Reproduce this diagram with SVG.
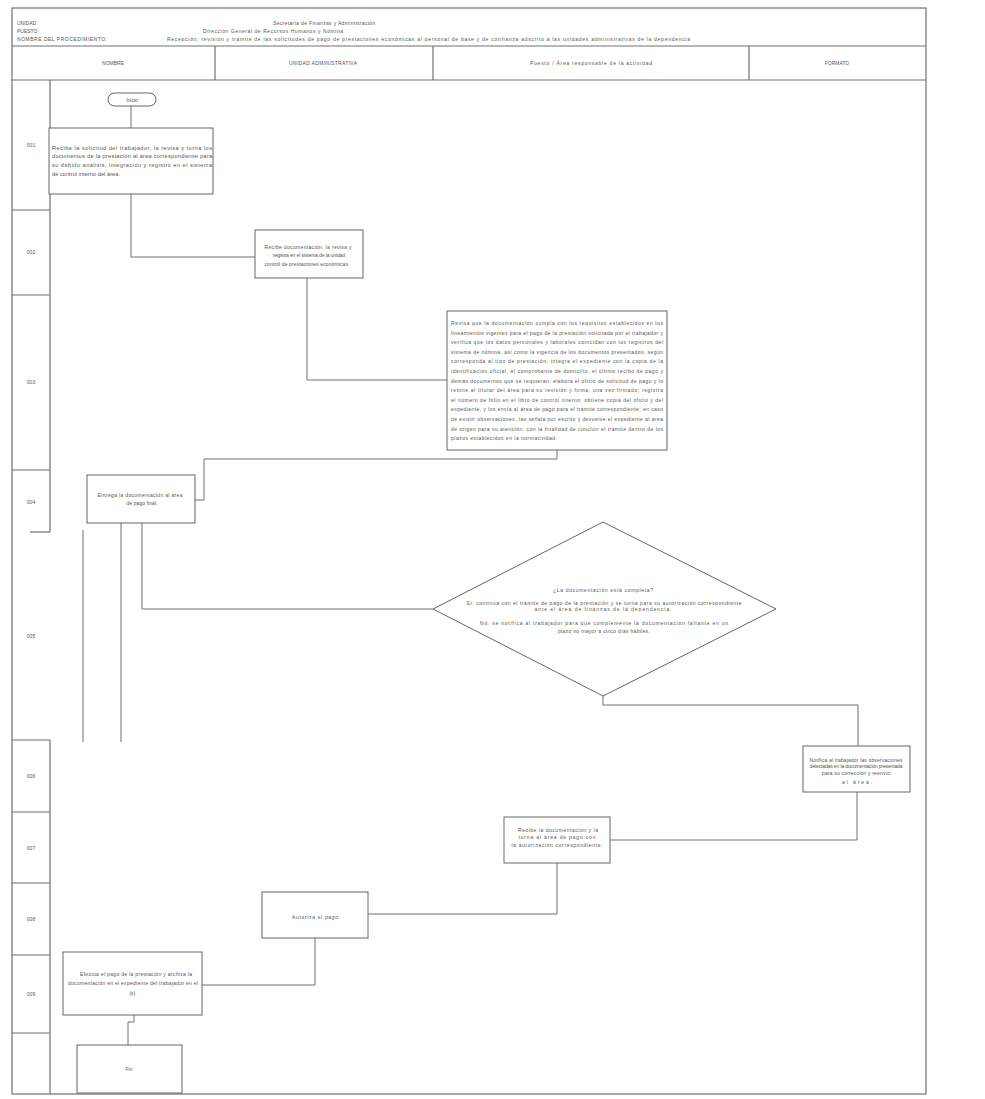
<svg xmlns="http://www.w3.org/2000/svg" width="985" height="1099" viewBox="0 0 985 1099">
<style>
.frame{fill:none;stroke:#707070;stroke-width:1.2}
.box{fill:#fff;stroke:#666;stroke-width:1}
.ln{fill:none;stroke:#707070;stroke-width:1}
.t{font-family:"Liberation Sans",Arial,sans-serif;font-size:5px;fill:#555}
.s{font-size:5.6px}
.m{text-anchor:middle}
</style>
<rect width="985" height="1099" fill="#fff"/>
<g id="page">
<rect class="frame" x="12" y="8" width="914" height="1086"/>
<line class="frame" x1="12" y1="46" x2="926" y2="46"/>
<line class="frame" x1="12" y1="80" x2="926" y2="80"/>
<line class="frame" x1="215" y1="46" x2="215" y2="80"/>
<line class="frame" x1="433" y1="46" x2="433" y2="80"/>
<line class="frame" x1="749" y1="46" x2="749" y2="80"/>
<text class="t" x="17" y="25">UNIDAD:</text>
<text class="t" x="17" y="33">PUESTO:</text>
<text class="t" x="17" y="41" textLength="90" lengthAdjust="spacing">NOMBRE DEL PROCEDIMIENTO:</text>
<text class="t" x="273" y="25" textLength="102" lengthAdjust="spacing">Secretaría de Finanzas y Administración</text>
<text class="t" x="203" y="33" textLength="140" lengthAdjust="spacing">Dirección General de Recursos Humanos y Nómina</text>
<text class="t" x="167" y="41" textLength="523" lengthAdjust="spacing">Recepción, revisión y trámite de las solicitudes de pago de prestaciones económicas al personal de base y de confianza adscrito a las unidades administrativas de la dependencia</text>
<text class="t m" x="113" y="65">NOMBRE</text>
<text class="t m" x="323" y="65" textLength="68" lengthAdjust="spacing">UNIDAD ADMINISTRATIVA</text>
<text class="t m" x="591" y="65" textLength="122" lengthAdjust="spacing">Puesto / Área responsable de la actividad</text>
<text class="t m" x="837" y="65">FORMATO</text>
</g>
<g id="numbers">
<line class="frame" x1="50" y1="80" x2="50" y2="532"/>
<line class="frame" x1="30" y1="532" x2="50" y2="532"/>
<line class="frame" x1="50" y1="740" x2="50" y2="1094"/>
<line class="frame" x1="12" y1="210" x2="50" y2="210"/>
<line class="frame" x1="12" y1="295" x2="50" y2="295"/>
<line class="frame" x1="12" y1="470" x2="50" y2="470"/>
<line class="frame" x1="12" y1="740" x2="50" y2="740"/>
<line class="frame" x1="12" y1="812" x2="50" y2="812"/>
<line class="frame" x1="12" y1="883" x2="50" y2="883"/>
<line class="frame" x1="12" y1="955" x2="50" y2="955"/>
<line class="frame" x1="12" y1="1033" x2="50" y2="1033"/>
<text class="t m" x="31" y="147">001</text>
<text class="t m" x="31" y="254">002</text>
<text class="t m" x="31" y="384">003</text>
<text class="t m" x="31" y="504">004</text>
<text class="t m" x="31" y="638">005</text>
<text class="t m" x="31" y="778">006</text>
<text class="t m" x="31" y="850">007</text>
<text class="t m" x="31" y="921">008</text>
<text class="t m" x="31" y="996">009</text>
</g>
<g id="connectors">
<polyline class="ln" points="131,106 131,128"/>
<polyline class="ln" points="131,194 131,257 255,257"/>
<polyline class="ln" points="307,278 307,380 447,380"/>
<polyline class="ln" points="557,450 557,459 204,459 204,500 195,500"/>
<polyline class="ln" points="142,523 142,609 433,609"/>
<polyline class="ln" points="121,523 121,742"/>
<polyline class="ln" points="83,530 83,742"/>
<polyline class="ln" points="603,696 603,705 858,705 858,746"/>
<polyline class="ln" points="857,792 857,840 610,840"/>
<polyline class="ln" points="557,863 557,914 368,914"/>
<polyline class="ln" points="315,938 315,985 202,985"/>
<polyline class="ln" points="134,1015 134,1022 128,1022 128,1045"/>
</g>
<g id="start">
<rect class="box" x="108" y="93" width="48" height="13" rx="6.5"/>
<text class="t m" x="132" y="101.5">Inicio</text>
</g>
<g id="act1">
<rect class="box" x="49" y="128" width="164" height="66"/>
<text class="t s" x="52" y="150" textLength="160" lengthAdjust="spacing">Recibe la solicitud del trabajador, la revisa y turna los</text>
<text class="t s" x="52" y="158" textLength="160" lengthAdjust="spacing">documentos de la prestación al área correspondiente para</text>
<text class="t s" x="52" y="167" textLength="160" lengthAdjust="spacing">su debido análisis, integración y registro en el sistema</text>
<text class="t s" x="52" y="176" textLength="68" lengthAdjust="spacing">de control interno del área.</text>
</g>
<g id="act2">
<rect class="box" x="255" y="230" width="108" height="48"/>
<text class="t m" x="308" y="249" textLength="87" lengthAdjust="spacing">Recibe documentación, la revisa y</text>
<text class="t m" x="309" y="257" textLength="72" lengthAdjust="spacing">registra en el sistema de la unidad</text>
<text class="t m" x="307" y="266" textLength="85" lengthAdjust="spacing">control de prestaciones económicas.</text>
</g>
<g id="act3">
<rect class="box" x="447" y="311" width="220" height="139"/>
<g class="t" font-size="5.8">
<text x="451" y="325" textLength="212" lengthAdjust="spacing">Revisa que la documentación cumpla con los requisitos establecidos en los</text>
<text x="451" y="334.6" textLength="212" lengthAdjust="spacing">lineamientos vigentes para el pago de la prestación solicitada por el trabajador y</text>
<text x="451" y="344.2" textLength="212" lengthAdjust="spacing">verifica que los datos personales y laborales coincidan con los registros del</text>
<text x="451" y="353.8" textLength="212" lengthAdjust="spacing">sistema de nómina, así como la vigencia de los documentos presentados, según</text>
<text x="451" y="363.4" textLength="212" lengthAdjust="spacing">corresponda al tipo de prestación; integra el expediente con la copia de la</text>
<text x="451" y="373" textLength="212" lengthAdjust="spacing">identificación oficial, el comprobante de domicilio, el último recibo de pago y</text>
<text x="451" y="382.6" textLength="212" lengthAdjust="spacing">demás documentos que se requieran; elabora el oficio de solicitud de pago y lo</text>
<text x="451" y="392.2" textLength="212" lengthAdjust="spacing">remite al titular del área para su revisión y firma; una vez firmado, registra</text>
<text x="451" y="401.8" textLength="212" lengthAdjust="spacing">el número de folio en el libro de control interno, obtiene copia del oficio y del</text>
<text x="451" y="411.4" textLength="212" lengthAdjust="spacing">expediente, y los envía al área de pago para el trámite correspondiente; en caso</text>
<text x="451" y="421" textLength="212" lengthAdjust="spacing">de existir observaciones, las señala por escrito y devuelve el expediente al área</text>
<text x="451" y="430.6" textLength="212" lengthAdjust="spacing">de origen para su atención, con la finalidad de concluir el trámite dentro de los</text>
<text x="451" y="440.2" textLength="106" lengthAdjust="spacing">plazos establecidos en la normatividad.</text>
</g>
</g>
<g id="act4">
<rect class="box" x="87" y="475" width="108" height="48"/>
<text class="t m" x="140" y="497" textLength="85" lengthAdjust="spacing">Entrega la documentación al área</text>
<text class="t m" x="142" y="505" textLength="31" lengthAdjust="spacing">de pago final.</text>
</g>
<g id="decision">
<polygon class="box" points="433,609 603,522 776,609 603,696"/>
<text class="t m" x="603" y="592" textLength="100" lengthAdjust="spacing">¿La documentación está completa?</text>
<text class="t m" x="604" y="605" textLength="275" lengthAdjust="spacing">Sí: continúa con el trámite de pago de la prestación y se turna para su autorización correspondiente</text>
<text class="t m" x="603" y="611" textLength="137" lengthAdjust="spacing">ante el área de finanzas de la dependencia.</text>
<text class="t m" x="604" y="625" textLength="248" lengthAdjust="spacing">No: se notifica al trabajador para que complemente la documentación faltante en un</text>
<text class="t m" x="604" y="633" textLength="92" lengthAdjust="spacing">plazo no mayor a cinco días hábiles.</text>
</g>
<g id="act6">
<rect class="box" x="803" y="746" width="107" height="46"/>
<text class="t m" x="856" y="762" textLength="93" lengthAdjust="spacing">Notifica al trabajador las observaciones</text>
<text class="t m" x="856" y="768" textLength="93" lengthAdjust="spacing">detectadas en la documentación presentada</text>
<text class="t m" x="856" y="775" textLength="68" lengthAdjust="spacing">para su corrección y reenvío</text>
<text class="t m" x="857" y="784" textLength="30" lengthAdjust="spacing">al área.</text>
</g>
<g id="act7">
<rect class="box" x="504" y="817" width="106" height="46"/>
<text class="t m" x="558" y="832" textLength="80" lengthAdjust="spacing">Recibe la documentación y la</text>
<text class="t m" x="557" y="839" textLength="77" lengthAdjust="spacing">turna al área de pago con</text>
<text class="t m" x="557" y="847" textLength="91" lengthAdjust="spacing">la autorización correspondiente.</text>
</g>
<g id="act8">
<rect class="box" x="262" y="892" width="106" height="46"/>
<text class="t m" x="315" y="919" textLength="46" lengthAdjust="spacing">Autoriza el pago</text>
</g>
<g id="act9">
<rect class="box" x="63" y="952" width="139" height="63"/>
<text class="t m" x="136" y="976" textLength="112" lengthAdjust="spacing">Efectúa el pago de la prestación y archiva la</text>
<text class="t m" x="133" y="985" textLength="130" lengthAdjust="spacing">documentación en el expediente del trabajador en el</text>
<text class="t m" x="133" y="995">(s).</text>
</g>
<g id="end">
<rect class="box" x="77" y="1045" width="105" height="48"/>
<text class="t m" x="129" y="1071">Fin</text>
</g>
</svg>
